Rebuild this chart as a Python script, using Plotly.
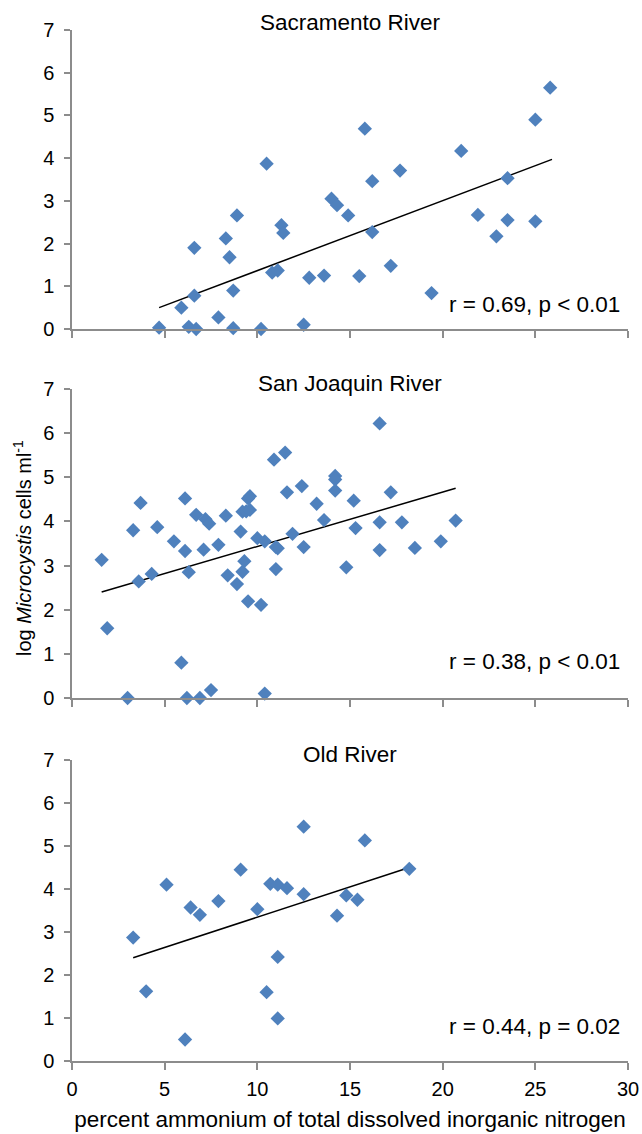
import plotly.graph_objects as go

# ---------------- data ----------------
sac_x = [4.7, 5.9, 6.3, 6.7, 6.6, 6.6, 7.9, 8.3, 8.5, 8.7, 8.7, 8.9, 10.2, 10.5, 10.8, 11.1,
         11.3, 11.4, 12.5, 12.8, 13.6, 14.0, 14.3, 14.9, 15.5, 15.8, 16.2, 16.2, 17.2, 17.7,
         19.4, 21.0, 21.9, 22.9, 23.5, 23.5, 25.0, 25.0, 25.8]
sac_y = [0.03, 0.5, 0.05, 0.0, 0.78, 1.9, 0.27, 2.12, 1.68, 0.9, 0.02, 2.66, 0.0, 3.87, 1.32, 1.37,
         2.43, 2.25, 0.1, 1.2, 1.25, 3.05, 2.9, 2.66, 1.24, 4.69, 3.46, 2.27, 1.48, 3.71,
         0.84, 4.17, 2.67, 2.17, 3.53, 2.55, 4.9, 2.52, 5.65]
sac_trend_x = [4.7, 25.9]
sac_trend_y = [0.5, 3.97]

sj_x = [1.6, 1.9, 3.0, 3.3, 3.6, 3.7, 4.3, 4.6, 5.5, 5.9, 6.1, 6.1, 6.2, 6.3, 6.7, 6.9, 7.1,
        7.2, 7.4, 7.5, 7.9, 8.3, 8.4, 8.9, 9.1, 9.2, 9.3, 9.2, 9.4, 9.5, 9.6, 9.6, 9.5, 10.0,
        10.2, 10.4, 10.4, 10.9, 11.1, 11.0, 11.0, 11.5, 11.6, 11.9, 12.4, 12.5, 13.2, 13.6,
        14.2, 14.2, 14.2, 14.8, 15.2, 15.3, 16.6, 16.6, 16.6, 17.2, 17.8, 18.5, 19.9, 20.7]
sj_y = [3.13, 1.58, 0.0, 3.8, 2.64, 4.42, 2.81, 3.87, 3.55, 0.8, 3.33, 4.52, 0.0, 2.85, 4.15, 0.0, 3.36,
        4.05, 3.95, 0.18, 3.47, 4.13, 2.78, 2.58, 3.77, 2.86, 3.1, 4.22, 4.23, 4.52, 4.26, 4.57, 2.19, 3.62,
        2.11, 3.55, 0.1, 5.4, 3.39, 3.42, 2.92, 5.56, 4.66, 3.72, 4.8, 3.42, 4.4, 4.03,
        5.03, 4.95, 4.7, 2.96, 4.47, 3.85, 6.22, 3.98, 3.35, 4.66, 3.98, 3.4, 3.55, 4.02]
sj_trend_x = [1.6, 20.7]
sj_trend_y = [2.4, 4.75]

old_x = [3.3, 4.0, 5.1, 6.1, 6.4, 6.9, 7.9, 9.1, 10.0, 10.5, 10.7, 11.1, 11.1, 11.1, 11.6,
         12.5, 12.5, 14.3, 14.8, 15.4, 15.8, 18.2]
old_y = [2.87, 1.62, 4.1, 0.5, 3.57, 3.4, 3.72, 4.45, 3.53, 1.6, 4.12, 4.1, 2.42, 0.99, 4.02,
         5.45, 3.88, 3.38, 3.85, 3.75, 5.13, 4.47]
old_trend_x = [3.3, 18.2]
old_trend_y = [2.4, 4.5]

panel_titles = ["Sacramento River", "San Joaquin River", "Old River"]
stat_texts = ["r = 0.69, p < 0.01", "r = 0.38, p < 0.01", "r = 0.44, p = 0.02"]
stat_y = [0.58, 0.82, 0.8]
x_ticks = [0, 5, 10, 15, 20, 25, 30]
y_ticks = [0, 1, 2, 3, 4, 5, 6, 7]
x_title = "percent ammonium of total dissolved inorganic nitrogen"
y_title = "log <i>Microcystis</i> cells ml<sup>-1</sup>"

# ---------------- figure ----------------
FONT = "Liberation Sans, Arial, Helvetica, sans-serif"
BLUE = "#4F81BD"
AXIS = "#8C8C8C"

W, H = 642, 1134
ML, MR, MT, MB = 72, 14, 30, 73
ph = H - MT - MB
# panel pixel spans from top of plot area
spans = [(0, 299), (359, 668), (730, 1031)]
domains = [[max(0, 1 - b / ph), 1 - a / ph] for a, b in spans]
title_shift = [8, 6, 6]

fig = go.Figure()
series = [(sac_x, sac_y, sac_trend_x, sac_trend_y),
          (sj_x, sj_y, sj_trend_x, sj_trend_y),
          (old_x, old_y, old_trend_x, old_trend_y)]

for i, (xs, ys, tx, ty) in enumerate(series):
    ax = "" if i == 0 else str(i + 1)
    fig.add_trace(go.Scatter(x=tx, y=ty, mode="lines", line=dict(color="black", width=1.5),
                             xaxis="x" + ax, yaxis="y" + ax, showlegend=False, hoverinfo="skip"))
    fig.add_trace(go.Scatter(x=xs, y=ys, mode="markers", cliponaxis=False,
                             marker=dict(symbol="diamond", size=11, color=BLUE),
                             xaxis="x" + ax, yaxis="y" + ax, showlegend=False))

layout = dict(
    width=W, height=H,
    margin=dict(l=ML, r=MR, t=MT, b=MB),
    paper_bgcolor="white", plot_bgcolor="white",
    font=dict(family=FONT, size=20, color="black"),
    showlegend=False,
)
annotations = []
for i in range(3):
    ax = "" if i == 0 else str(i + 1)
    xkey = "xaxis" + ax
    ykey = "yaxis" + ax
    layout[xkey] = dict(range=[0, 30], tickvals=x_ticks, showticklabels=(i == 2),
                        showline=True, linecolor=AXIS, linewidth=1.5,
                        ticks="outside", ticklen=7, tickcolor=AXIS, tickwidth=1.5,
                        showgrid=False, zeroline=False, anchor="y" + ax, automargin=False,
                        tickfont=dict(size=20, family=FONT, color="black"),
                        ticklabelstandoff=2)
    if i == 2:
        layout[xkey]["title"] = dict(text=x_title, font=dict(size=22.5, family=FONT), standoff=12)
    else:
        layout[xkey]["matches"] = "x3"
    layout[ykey] = dict(range=[0, 7], tickvals=y_ticks, domain=domains[i],
                        showline=True, linecolor=AXIS, linewidth=1.5,
                        ticks="outside", ticklen=6, tickcolor=AXIS, tickwidth=1.5,
                        showgrid=False, zeroline=False, anchor="x" + ax, automargin=False,
                        tickfont=dict(size=20, family=FONT, color="black"),
                        ticklabelstandoff=6)
    annotations.append(dict(text=panel_titles[i], xref="x" + ax + " domain", yref="y" + ax + " domain",
                            x=0.5, y=1, yanchor="middle", yshift=title_shift[i], showarrow=False,
                            font=dict(size=22.5, family=FONT)))
    annotations.append(dict(text=stat_texts[i], xref="x" + ax, yref="y" + ax,
                            x=29.7, y=stat_y[i], xanchor="right", yanchor="middle", showarrow=False,
                            font=dict(size=22.5, family=FONT)))

annotations.append(dict(text=y_title, xref="paper", yref="paper", x=(22 - ML) / (W - ML - MR),
                        y=1 - (548 - MT) / ph, xanchor="center", yanchor="middle", textangle=-90,
                        showarrow=False, font=dict(size=20, family=FONT)))
layout["annotations"] = annotations
fig.update_layout(**layout)

fig.write_html("out.html")
